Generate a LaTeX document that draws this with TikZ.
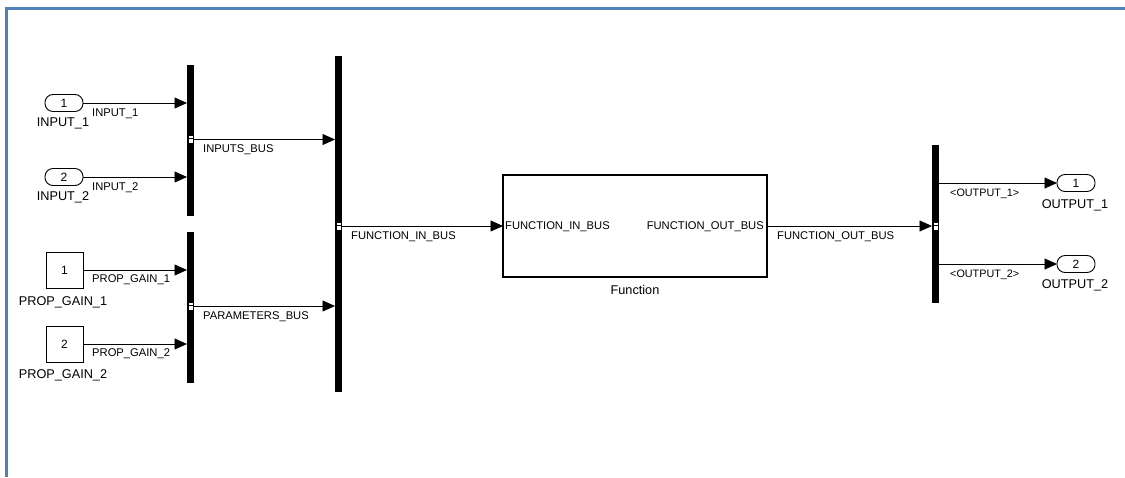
\documentclass[tikz,border=0pt]{standalone}
\usepackage{fontspec}
\setmainfont{Liberation Sans}
\usetikzlibrary{arrows.meta,calc}
\definecolor{frameblue}{HTML}{4F81BD}
\tikzset{
  bus/.style={fill=black,draw=none,inner sep=0pt,outer sep=0pt,minimum width=7pt},
  port/.style={draw=black,line width=0.9pt,rounded corners=8pt,minimum width=38pt,minimum height=17pt,inner sep=0pt,outer sep=0pt,font=\fontsize{12}{14}\selectfont},
  cst/.style={draw=black,line width=0.9pt,minimum width=37pt,minimum height=36pt,inner sep=0pt,outer sep=0pt,font=\fontsize{12}{14}\selectfont},
  subsys/.style={draw=black,line width=2pt,minimum width=264pt,minimum height=102pt,inner sep=0pt,outer sep=0pt},
  arr/.style={line width=0.8pt,-{Triangle[length=12.5pt,width=11pt]}},
  lbl/.style={font=\fontsize{11.2}{13}\selectfont,inner sep=0pt,anchor=west},
  blbl/.style={font=\fontsize{12.7}{15}\selectfont,inner sep=0pt},
  mk/.style={fill=white,draw=black,line width=0.6pt}
}
\begin{document}
\begin{tikzpicture}[x=1pt,y=-1pt]
\useasboundingbox (0,0) rectangle (1125,477);
% frame
\draw[frameblue,line width=3pt] (6,477) -- (6,8) -- (1125,8);
% buses
\node[bus,minimum height=151pt] (bc1) at (190.5,140.5) {};
\node[bus,minimum height=151pt] (bc2) at (190.5,307.5) {};
\node[bus,minimum height=336pt] (bc3) at (338.5,224) {};
\node[bus,minimum height=158pt] (bs) at (935.5,224) {};
% inports
\node[port] (in1) at (64,103) {1};
\node[port] (in2) at (64,177) {2};
\node[blbl] (in1l) at (63,123) {INPUT\_1};
\node[blbl] (in2l) at (63,197) {INPUT\_2};
% constants
\node[cst] (pg1) at (64.5,270) {1};
\node[cst] (pg2) at (64.5,344) {2};
\node[blbl] (pg1l) at (63,302) {PROP\_GAIN\_1};
\node[blbl] (pg2l) at (63,375) {PROP\_GAIN\_2};
% function subsystem
\node[subsys] (fun) at (635,226) {};
\node[lbl] (fin) at ($(fun.west)+(2,1)$) {FUNCTION\_IN\_BUS};
\node[lbl,anchor=east] (fout) at ($(fun.east)+(-3,1)$) {FUNCTION\_OUT\_BUS};
\node[blbl] (funl) at (635,290) {Function};
% outports
\node[port] (out1) at (1076,183) {1};
\node[port] (out2) at (1076,264) {2};
\node[blbl] (out1l) at (1075,205) {OUTPUT\_1};
\node[blbl] (out2l) at (1075,285) {OUTPUT\_2};
% coordinates for bus outputs
\coordinate (o1) at (190.5,139.5);
\coordinate (o2) at (190.5,306);
\coordinate (o3) at (338.5,226);
% connections
\draw[arr] (in1.east) -- (in1.east -| bc1.west);
\draw[arr] (in2.east) -- (in2.east -| bc1.west);
\draw[arr] (pg1.east) -- (pg1.east -| bc2.west);
\draw[arr] (pg2.east) -- (pg2.east -| bc2.west);
\draw[arr] (o1 -| bc1.east) -- (o1 -| bc3.west);
\draw[arr] (o2 -| bc2.east) -- (o2 -| bc3.west);
\draw[arr] (o3 -| bc3.east) -- (fun.west);
\draw[arr] (fun.east) -- (fun.east -| bs.west);
\draw[arr] (out1.west -| bs.east) -- (out1.west);
\draw[arr] (out2.west -| bs.east) -- (out2.west);
% bus markers
\draw[mk] ($(o1)+(-2.5,-4)$) rectangle +(5,3);
\draw[mk] ($(o1)+(-2.5,-1)$) rectangle +(5,5);
\draw[mk] ($(o2)+(-2.5,-4)$) rectangle +(5,3);
\draw[mk] ($(o2)+(-2.5,-1)$) rectangle +(5,5);
\draw[mk] ($(o3)+(-2.5,-4)$) rectangle +(5,3);
\draw[mk] ($(o3)+(-2.5,-1)$) rectangle +(5,5);
\draw[mk] ($(fun.east -| bs.center)+(-2.5,-4)$) rectangle +(5,3);
\draw[mk] ($(fun.east -| bs.center)+(-2.5,-1)$) rectangle +(5,5);
% line labels
\node[lbl] (l1) at (92,113.5) {INPUT\_1};
\node[lbl] (l2) at (92,187.5) {INPUT\_2};
\node[lbl] (l3) at (92,279.5) {PROP\_GAIN\_1};
\node[lbl] (l4) at (92,353.5) {PROP\_GAIN\_2};
\node[lbl] (l5) at (203,149.5) {INPUTS\_BUS};
\node[lbl] (l6) at (203,316.5) {PARAMETERS\_BUS};
\node[lbl] (l7) at (351,236.5) {FUNCTION\_IN\_BUS};
\node[lbl] (l8) at (777,236.5) {FUNCTION\_OUT\_BUS};
\node[lbl,font=\fontsize{10.8}{13}\selectfont] (l9) at (950,193.5) {<OUTPUT\_1>};
\node[lbl,font=\fontsize{10.8}{13}\selectfont] (l10) at (950,274.5) {<OUTPUT\_2>};
\end{tikzpicture}
\end{document}
